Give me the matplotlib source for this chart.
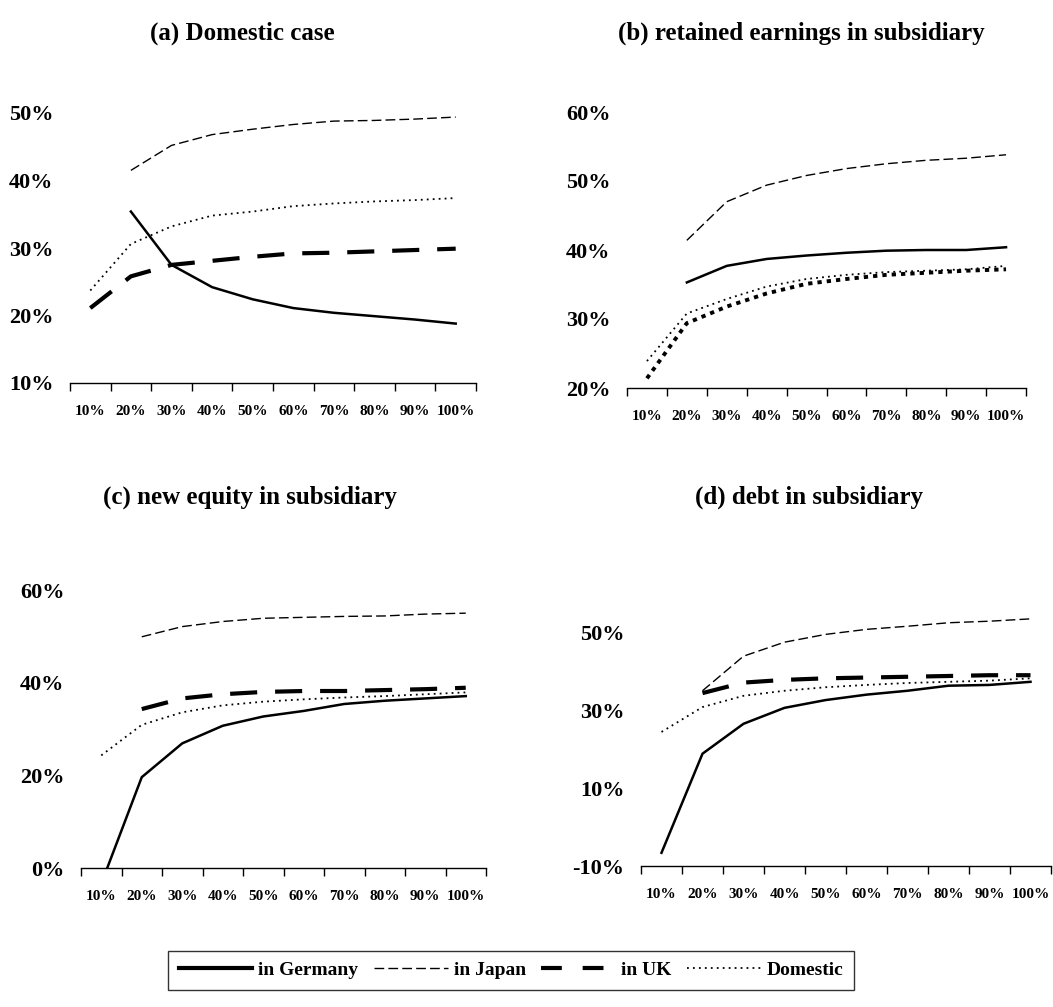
import numpy as np
import matplotlib
matplotlib.use("Agg")
from matplotlib import pyplot as plt
from matplotlib.lines import Line2D

# category labels (share of ... )
cats = ["10%", "20%", "30%", "40%", "50%", "60%", "70%", "80%", "90%", "100%"]
nan = np.nan

# (a) Domestic case
a_germany = [nan, 35.4, 27.5, 24.2, 22.4, 21.1, 20.4, 19.9, 19.4, 18.8]
a_japan = [nan, 41.5, 45.2, 46.8, 47.6, 48.3, 48.8, 48.9, 49.1, 49.4]
a_uk = [21.1, 25.8, 27.5, 28.1, 28.7, 29.2, 29.3, 29.5, 29.7, 29.9]
a_domestic = [23.7, 30.6, 33.2, 34.8, 35.4, 36.2, 36.6, 36.9, 37.1, 37.4]

# (b) retained earnings in subsidiary
b_germany = [nan, 35.3, 37.7, 38.7, 39.2, 39.6, 39.9, 40.0, 40.0, 40.4]
b_japan = [nan, 41.4, 47.0, 49.4, 50.8, 51.8, 52.5, 53.0, 53.3, 53.8]
b_uk = [21.4, 29.4, 31.8, 33.7, 35.1, 35.8, 36.4, 36.7, 37.0, 37.2]
b_domestic = [23.9, 30.8, 32.9, 34.7, 35.8, 36.4, 36.8, 37.0, 37.2, 37.7]

# (c) new equity in subsidiary
c_germany = [-3.4, 19.6, 26.9, 30.7, 32.7, 33.9, 35.4, 36.1, 36.6, 37.1]
c_japan = [nan, 49.9, 52.1, 53.2, 53.9, 54.1, 54.3, 54.4, 54.8, 55.0]
c_uk = [nan, 34.3, 36.6, 37.5, 38.0, 38.2, 38.2, 38.4, 38.6, 38.9]
c_domestic = [24.3, 30.9, 33.6, 35.1, 35.9, 36.4, 36.8, 37.1, 37.5, 37.9]

# (d) debt in subsidiary
d_germany = [-6.6, 18.9, 26.6, 30.7, 32.7, 34.1, 35.1, 36.4, 36.6, 37.4]
d_japan = [nan, 35.1, 44.0, 47.6, 49.6, 50.9, 51.7, 52.6, 53.0, 53.6]
d_uk = [nan, 34.5, 37.2, 37.9, 38.3, 38.5, 38.7, 38.9, 39.1, 39.1]
d_domestic = [24.5, 30.9, 33.8, 35.1, 36.0, 36.6, 37.1, 37.4, 37.7, 38.3]

titles = ["(a) Domestic case", "(b) retained earnings in subsidiary",
          "(c) new equity in subsidiary", "(d) debt in subsidiary"]
yticks_all = [[10, 20, 30, 40, 50], [20, 30, 40, 50, 60], [0, 20, 40, 60], [-10, 10, 30, 50]]
ylims = [(10, 50), (20, 60), (0, 60), (-10, 60)]

serif = "Liberation Serif"

W, H = 1053, 1007
fig = plt.figure(figsize=(W / 100, H / 100), dpi=100)

# axes boxes in pixels: left, right, top, bottom
boxes = [(70, 476, 113, 383), (627, 1026, 112, 388), (81, 486, 590, 868), (641, 1051, 594, 866)]
title_pos = [(242, 33), (801, 33), (250, 497), (809, 497)]

style_germany = dict(color="black", lw=1.8, ls="-")
style_japan = dict(color="black", lw=1.0, ls=(0, (7, 3)))
style_uk = dict(color="black", lw=3.0, ls=(0, (6.5, 4.3)))
style_uk_b = dict(color="black", lw=2.8, ls=(0, (1.1, 1.3)))
style_dom = dict(color="black", lw=1.3, ls=(0, (1, 2.3)))

panels = [
    (a_germany, a_japan, a_uk, a_domestic),
    (b_germany, b_japan, b_uk, b_domestic),
    (c_germany, c_japan, c_uk, c_domestic),
    (d_germany, d_japan, d_uk, d_domestic),
]

x = np.arange(len(cats))
for i, (ger, jap, uk, dom) in enumerate(panels):
    l, r, t, b = boxes[i]
    ax = fig.add_axes([l / W, 1 - b / H, (r - l) / W, (b - t) / H])
    ax.plot(x, jap, **style_japan)
    ax.plot(x, dom, **style_dom)
    if i == 1:
        ax.plot(x, uk, **style_uk_b)  # drawn as heavy dots in panel b
    else:
        ax.plot(x, uk, **style_uk)
    ax.plot(x, ger, **style_germany)

    ax.set_xlim(-0.5, len(cats) - 0.5)
    ax.set_ylim(*ylims[i])
    ax.spines[["left", "top", "right"]].set_visible(False)
    ax.spines["bottom"].set_linewidth(1.0)

    ax.set_xticks(x)
    ax.set_xticklabels(cats, fontfamily=serif, fontweight="bold", fontsize=11)
    ax.set_xticks(np.arange(-0.5, len(cats)), minor=True)
    ax.tick_params(axis="x", which="major", length=0, pad=16)
    ax.tick_params(axis="x", which="minor", length=6, width=1, direction="out")

    yt = yticks_all[i]
    ax.set_yticks(yt)
    ax.set_yticklabels(["%d%%" % v for v in yt], fontfamily=serif, fontweight="bold", fontsize=16)
    ax.tick_params(axis="y", length=0, pad=12)

    tx, ty = title_pos[i]
    fig.text(tx / W, 1 - ty / H, titles[i], ha="center", va="center",
             fontfamily=serif, fontweight="bold", fontsize=18)

handles = [Line2D([], [], color="black", lw=3.0, ls="-"),
           Line2D([], [], **style_japan),
           Line2D([], [], color="black", lw=3.0, ls=(0, (5, 5))),
           Line2D([], [], **style_dom)]
labels = ["in Germany", "in Japan", "in UK", "Domestic"]
leg = fig.legend(handles, labels, loc="center", bbox_to_anchor=(511 / W, 1 - 970 / H), ncol=4,
                 frameon=True, fancybox=False, edgecolor="black", borderpad=0.55,
                 handlelength=3.8, handletextpad=0.3, columnspacing=0.8,
                 prop=dict(family=serif, weight="bold", size=14))
leg.get_frame().set_linewidth(1.0)

plt.savefig("out.png", dpi=100)
